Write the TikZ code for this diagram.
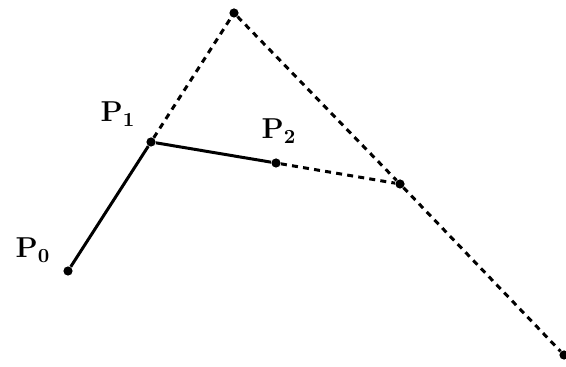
\documentclass[tikz,border=0pt]{standalone}
\usepackage{amsmath,amssymb}
\usepackage{tikz}
\usetikzlibrary{positioning}

\begin{document}
\begin{tikzpicture}[
  x=0.5pt, y=-0.5pt,
  pt/.style={circle, fill=black, inner sep=0pt, minimum size=4.6pt},
  lbl/.style={inner sep=0pt, font=\Large\boldmath},
  seg/.style={line width=1.5pt, black},
  aux/.style={line width=1.5pt, black, dash pattern=on 3pt off 2.6pt},
]
  \useasboundingbox (0,0) rectangle (566,367);
  \node[pt] (p0) at (68,271) {};
  \node[pt] (p1) at (151,142) {};
  \node[pt] (p2) at (276,163) {};
  \node[pt] (top) at (234,13) {};
  \node[pt] (q) at (400,184) {};
  \node[pt] (end) at (564,355) {};
  \node[lbl] (l0) at (33,250) {$\mathbf{P}_0$};
  \node[lbl] (l1) at (118,114) {$\mathbf{P}_1$};
  \node[lbl] (l2) at (279,131) {$\mathbf{P}_2$};
  \draw[seg] (p0) -- (p1);
  \draw[seg] (p1) -- (p2);
  \draw[aux] (p1) -- (top);
  \draw[aux] (top) -- (q);
  \draw[aux] (q) -- (end);
  \draw[aux] (p2) -- (q);
\end{tikzpicture}
\end{document}
